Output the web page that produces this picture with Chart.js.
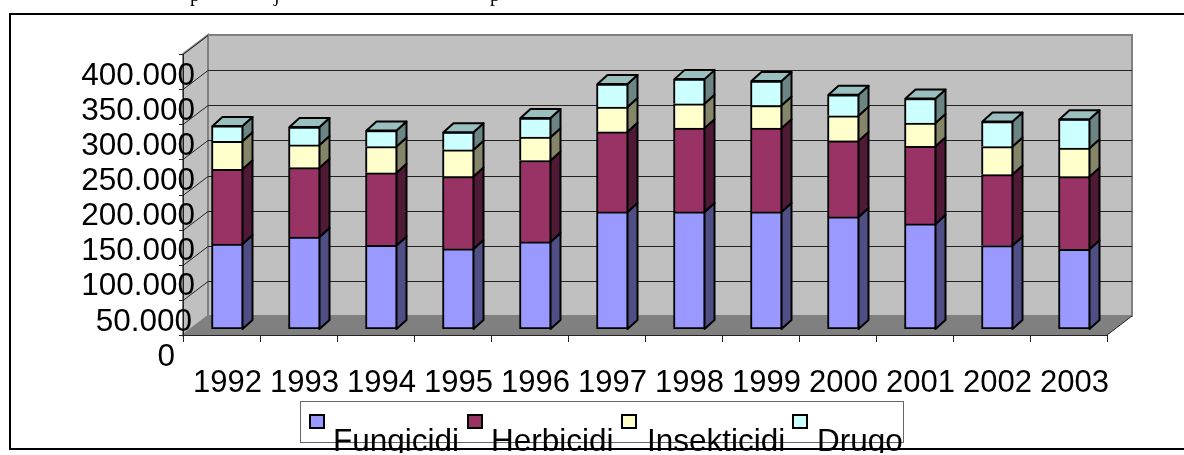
<!DOCTYPE html>
<html>
<head>
<meta charset="utf-8">
<title>Pesticidi</title>
<script src="https://cdn.jsdelivr.net/npm/chart.js@4"></script>
<style>
    html, body { margin: 0; padding: 0; background: #fff; overflow: hidden; }
    canvas { display: block; }
</style>
</head>
<body>
<canvas id="myChart" width="1184" height="455"></canvas>
<script>
const years = ['1992', '1993', '1994', '1995', '1996', '1997', '1998', '1999', '2000', '2001', '2002', '2003'];
const fungicidi = [121000, 131000, 119000, 114000, 124000, 166700, 166700, 166700, 159500, 149600, 118700, 113500];
const herbicidi = [106400, 98700, 103300, 103000, 115800, 114000, 119200, 119200, 108300, 110400, 101100, 103400];
const insekticidi = [39900, 32300, 37500, 38000, 33300, 35200, 34600, 32200, 35600, 33200, 39900, 40500];
const drugo = [21800, 25600, 22800, 25200, 27100, 32800, 35200, 34800, 29900, 34900, 35600, 41300];

// front colour, side colour, top colour of each series
const faceColors = ['#9999FF', '#993366', '#FFFFCC', '#CCFFFF'];
const sideColors = ['#4F4F85', '#4F1A35', '#858569', '#6B8585'];
const topColors = ['#7A7ACC', '#7A2952', '#CCCCA3', '#99BFBF'];

// the fake 3D box around the plot: how far the front and back planes sit from the bars
const front = { dx: -6, dy: 6 };
const back = { dx: 19, dy: -13 };
const barDepth = { dx: 10, dy: -9 };

// Mur, sol et graduations derriere les barres
const wallsPlugin = {
    id: 'walls',
    beforeDraw(chart) {
        const { ctx, chartArea: a, scales: { y } } = chart;
        const fl = a.left + front.dx, fr = a.right + front.dx, fb = a.bottom + front.dy, ft = a.top + front.dy;
        const bl = a.left + back.dx, br = a.right + back.dx, bb = a.bottom + back.dy, bt = a.top + back.dy;

        ctx.save();
        // cadre de la page
        ctx.strokeStyle = '#000';
        ctx.lineWidth = 2;
        ctx.beginPath();
        ctx.moveTo(1184, 14);
        ctx.lineTo(10, 14);
        ctx.lineTo(10, 449);
        ctx.lineTo(1184, 449);
        ctx.stroke();

        // back wall, left wall and floor
        ctx.fillStyle = '#C0C0C0';
        ctx.strokeStyle = '#808080';
        ctx.lineWidth = 2;
        ctx.fillRect(bl, bt, br - bl, bb - bt);
        ctx.strokeRect(bl, bt, br - bl, bb - bt);
        ctx.beginPath();
        ctx.moveTo(fl, fb);
        ctx.lineTo(bl, bb);
        ctx.lineTo(bl, bt);
        ctx.lineTo(fl, ft);
        ctx.closePath();
        ctx.fill();
        ctx.stroke();
        ctx.fillStyle = '#808080';
        ctx.beginPath();
        ctx.moveTo(fl, fb);
        ctx.lineTo(fr, fb);
        ctx.lineTo(br, bb);
        ctx.lineTo(bl, bb);
        ctx.closePath();
        ctx.fill();

        // gridlines taken from the y scale
        ctx.strokeStyle = '#222';
        ctx.lineWidth = 1;
        ctx.beginPath();
        y.ticks.forEach((t, i) => {
            const py = Math.round(y.getPixelForTick(i));
            if (t.value > 0 && t.value < y.max) {
                ctx.moveTo(bl, py + back.dy + 0.5);
                ctx.lineTo(br, py + back.dy + 0.5);
            }
            if (t.value > 0) {
                ctx.moveTo(fl, py + front.dy + 0.5);
                ctx.lineTo(bl, py + back.dy + 0.5);
            }
            ctx.moveTo(fl - 4, py + front.dy + 0.5);
            ctx.lineTo(fl, py + front.dy + 0.5);
        });
        // front axes
        ctx.moveTo(fl + 0.5, ft);
        ctx.lineTo(fl + 0.5, fb);
        ctx.moveTo(fl, fb + 0.5);
        ctx.lineTo(fr, fb + 0.5);
        ctx.moveTo(fr, fb);
        ctx.lineTo(br, bb);
        const step = (a.right - a.left) / years.length;
        for (let i = 0; i <= years.length; i++) {
            const px = Math.round(fl + i * step) + 0.5;
            ctx.moveTo(px, fb);
            ctx.lineTo(px, fb + 7);
        }
        ctx.stroke();

        // bouts de la ligne de texte au-dessus du cadre
        ctx.fillStyle = '#000';
        ctx.font = '20px "Liberation Serif"';
        ctx.textAlign = 'left';
        ctx.textBaseline = 'alphabetic';
        ctx.fillText('p', 190, 1);
        ctx.fillText('j', 274, 1);
        ctx.fillText('p', 490, 1);
        ctx.restore();
    },
    // Faces laterales et dessus des barres
    afterDatasetsDraw(chart) {
        const { ctx, scales: { y } } = chart;
        ctx.save();
        ctx.strokeStyle = '#000';
        ctx.lineWidth = 2;
        ctx.lineJoin = 'round';
        chart.data.datasets.forEach((ds, d) => {
            chart.getDatasetMeta(d).data.forEach((bar) => {
                const right = bar.x + bar.width / 2 - 1;
                const left = bar.x - bar.width / 2 + 1;
                ctx.fillStyle = sideColors[d];
                ctx.beginPath();
                ctx.moveTo(right, bar.base);
                ctx.lineTo(right + barDepth.dx, bar.base + barDepth.dy);
                ctx.lineTo(right + barDepth.dx, bar.y + barDepth.dy);
                ctx.lineTo(right, bar.y);
                ctx.closePath();
                ctx.fill();
                ctx.stroke();
                if (d === chart.data.datasets.length - 1) {
                    ctx.fillStyle = topColors[d];
                    ctx.beginPath();
                    ctx.moveTo(left, bar.y);
                    ctx.lineTo(left + barDepth.dx, bar.y + barDepth.dy);
                    ctx.lineTo(right + barDepth.dx, bar.y + barDepth.dy);
                    ctx.lineTo(right, bar.y);
                    ctx.closePath();
                    ctx.fill();
                    ctx.stroke();
                }
            });
        });

        // y labels: the scale clips its own labels at the plot edge and these run past it
        ctx.fillStyle = '#000';
        ctx.font = '31.5px "Liberation Sans"';
        ctx.textAlign = 'right';
        ctx.textBaseline = 'middle';
        y.ticks.forEach((t, i) => {
            const rightEdge = t.value === 0 ? 175 : (t.value === 50000 ? 192 : 195);
            ctx.fillText(t.label, rightEdge, y.getPixelForTick(i) + 28);
        });
        ctx.restore();
    },
    // Legende : le texte deborde sous les carres, comme sur l'original
    afterDraw(chart) {
        const { ctx } = chart;
        const boxX = [310, 468, 622, 793];
        const textX = [333, 491, 647, 817];
        ctx.save();
        ctx.fillStyle = '#fff';
        ctx.strokeStyle = '#666';
        ctx.lineWidth = 1;
        ctx.fillRect(301, 401, 602, 41);
        ctx.strokeRect(300.5, 401.5, 603, 41);
        chart.data.datasets.forEach((ds, d) => {
            ctx.fillStyle = faceColors[d];
            ctx.strokeStyle = '#000';
            ctx.lineWidth = 2;
            ctx.fillRect(boxX[d], 415, 14, 13);
            ctx.strokeRect(boxX[d], 415, 14, 13);
        });
        ctx.beginPath();
        ctx.rect(0, 0, 1184, 453);
        ctx.clip();
        ctx.fillStyle = '#000';
        ctx.font = '31.5px "Liberation Sans"';
        ctx.textAlign = 'left';
        ctx.textBaseline = 'alphabetic';
        chart.data.datasets.forEach((ds, d) => {
            ctx.fillText(ds.label, textX[d], 451);
        });
        ctx.restore();
    }
};

function makeDataset(label, values, index) {
    return {
        label: label,
        data: values,
        backgroundColor: faceColors[index],
        borderColor: '#000',
        borderWidth: 2,
        borderSkipped: index === 0 ? false : 'bottom'
    };
}

function noPadding(scale) {
    scale.paddingLeft = 0;
    scale.paddingRight = 0;
    scale.paddingTop = 0;
    scale.paddingBottom = 0;
}

const ctx = document.getElementById('myChart').getContext('2d');
const myChart = new Chart(ctx, {
    type: 'bar',
    data: {
        labels: years,
        datasets: [
            makeDataset('Fungicidi', fungicidi, 0),
            makeDataset('Herbicidi', herbicidi, 1),
            makeDataset('Insekticidi', insekticidi, 2),
            makeDataset('Drugo', drugo, 3)
        ]
    },
    options: {
        responsive: false,
        animation: false,
        barThickness: 32,
        layout: { padding: { left: 0, right: 71, top: 48, bottom: 0 } },
        plugins: { legend: { display: false }, tooltip: { enabled: false } },
        scales: {
            x: {
                stacked: true,
                grid: { display: false, drawTicks: false },
                border: { display: false },
                ticks: {
                    color: '#000',
                    font: { family: '"Liberation Sans"', size: 31 },
                    padding: 36,
                    maxRotation: 0,
                    autoSkip: false
                },
                afterFit(scale) {
                    scale.height = 126;
                    noPadding(scale);
                }
            },
            y: {
                stacked: true,
                min: 0,
                max: 400000,
                grid: { display: false, drawTicks: false },
                border: { display: false },
                ticks: {
                    display: false,
                    stepSize: 50000,
                    autoSkip: false,
                    callback: value => value === 0 ? '0' : String(value / 1000) + '.000'
                },
                afterFit(scale) {
                    scale.width = 189;
                    noPadding(scale);
                }
            }
        }
    },
    plugins: [wallsPlugin]
});
</script>
</body>
</html>
